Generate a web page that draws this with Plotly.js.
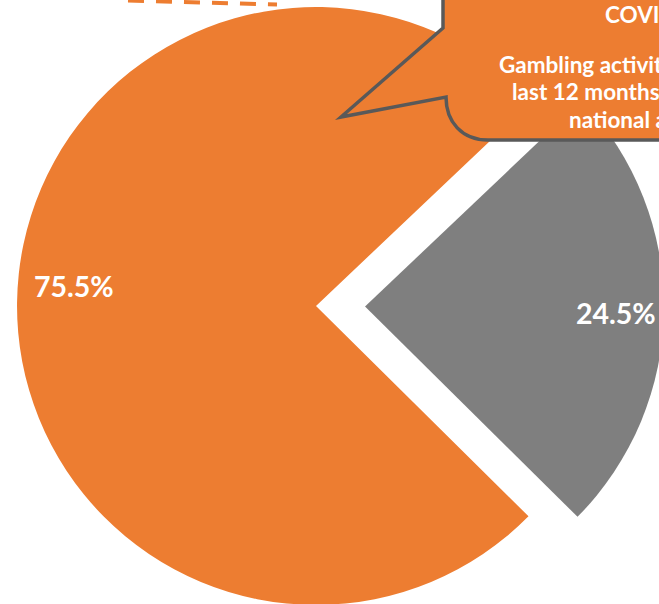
<!DOCTYPE html>
<html>
<head>
<meta charset="utf-8">
<script src="https://cdn.plot.ly/plotly-3.0.1.min.js"></script>
<style>
html,body{margin:0;padding:0;overflow:hidden;width:659px;height:604px;background:#ffffff;}
#chart{position:absolute;left:-32px;top:-42px;}
</style>
</head>
<body>
<div id="chart"></div>
<script>
// ---- data ----
const categories = ['Category 1', 'Category 2'];
const values = [24.5, 75.5];
const sliceColors = ['#7F7F7F', '#ED7D31'];
const pulls = [0.164, 0];
const calloutLines = ['COVID-19', 'Gambling activity in the', 'last 12 months compared to', 'national average'];

// ---- geometry helpers (page pixels -> paper coords) ----
const W = 696, offX = -32, offY = -42;
const px = x => (x - offX) / W;
const py = y => 1 - (y - offY) / W;

const ORANGE = '#ED7D31';
const BORDER = '#595959';

const trace = {
  type: 'pie',
  labels: categories,
  values: values,
  sort: false,
  direction: 'clockwise',
  rotation: 46.5,
  pull: pulls,
  marker: {colors: sliceColors, line: {width: 0}},
  textinfo: 'none',
  hoverinfo: 'skip',
  domain: {x: [0, 1], y: [0, 1]}
};

const calloutPath =
  'M ' + px(443) + ',' + py(-20) +
  ' L ' + px(443) + ',' + py(28) +
  ' L ' + px(341) + ',' + py(117) +
  ' L ' + px(446) + ',' + py(97) +
  ' C ' + px(446) + ',' + py(122) + ' ' + px(462) + ',' + py(140) + ' ' + px(488) + ',' + py(140) +
  ' L ' + px(730) + ',' + py(140) +
  ' L ' + px(730) + ',' + py(-20) + ' Z';

const shapes = [
  {type: 'line', xref: 'paper', yref: 'paper', layer: 'above',
   x0: px(128), y0: py(0.5), x1: px(277), y1: py(4.5),
   line: {color: ORANGE, width: 4, dash: '16px,12px'}},
  {type: 'path', xref: 'paper', yref: 'paper', layer: 'above',
   path: calloutPath, fillcolor: ORANGE, line: {color: BORDER, width: 3.5}}
];

const labelFont = {family: 'Lato, "Noto Sans", sans-serif', size: 28.5, color: '#ffffff', weight: 'bold'};
const calloutFont = {family: 'Lato, "Noto Sans", sans-serif', size: 22.5, color: '#ffffff', weight: 'bold'};

const annotations = [
  {xref: 'paper', yref: 'paper', x: px(73.5), y: py(286), text: '<b>' + values[1].toFixed(1) + '%</b>',
   showarrow: false, xanchor: 'center', yanchor: 'middle', font: labelFont},
  {xref: 'paper', yref: 'paper', x: px(616), y: py(313), text: '<b>' + values[0].toFixed(1) + '%</b>',
   showarrow: false, xanchor: 'center', yanchor: 'middle', font: labelFont}
];
const lineStarts = [603, 497, 510, 567];
const lineYs = [15, 64, 92, 119];
calloutLines.forEach((t, i) => {
  annotations.push({xref: 'paper', yref: 'paper', x: px(lineStarts[i]), y: py(lineYs[i]),
    text: '<b>' + t + '</b>', showarrow: false, xanchor: 'left', yanchor: 'middle', font: calloutFont});
});

const layout = {
  width: W, height: W,
  margin: {l: 0, r: 0, t: 0, b: 0, pad: 0},
  showlegend: false,
  paper_bgcolor: 'rgba(0,0,0,0)',
  plot_bgcolor: 'rgba(0,0,0,0)',
  shapes: shapes,
  annotations: annotations
};

Plotly.newPlot('chart', [trace], layout, {displayModeBar: false, staticPlot: true});
</script>
</body>
</html>
